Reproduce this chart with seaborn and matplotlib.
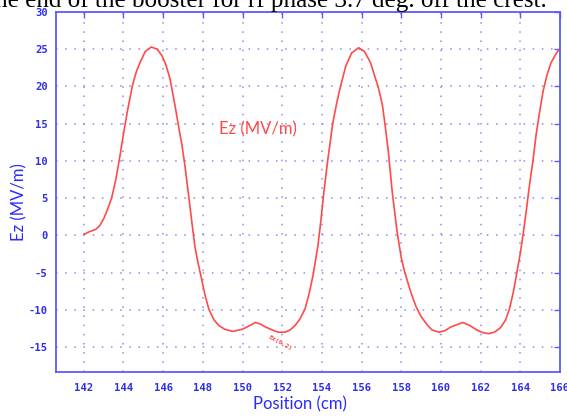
import numpy as np
import pandas as pd
import matplotlib
matplotlib.use("Agg")
import matplotlib.pyplot as plt
import seaborn as sns

position_cm = [142.0, 142.2, 142.4, 142.6, 142.8, 143.0, 143.2, 143.4, 143.6, 143.8,
               144.0, 144.2, 144.45, 144.65, 144.85, 145.1, 145.4, 145.7, 145.95, 146.15,
               146.35, 146.6, 146.8, 146.95, 147.1, 147.3, 147.45, 147.6, 147.75, 147.9,
               148.1, 148.3, 148.55, 148.8, 149.1, 149.5, 150.0, 150.3, 150.65, 150.9,
               151.15, 151.5, 151.8, 152.15, 152.4, 152.65, 152.9, 153.15, 153.35, 153.55,
               153.7, 153.8, 153.95, 154.1, 154.3, 154.55, 154.75, 154.9, 155.2, 155.5,
               155.85, 156.15, 156.45, 156.65, 156.85, 157.05, 157.2, 157.35, 157.55, 157.8,
               158.0, 158.15, 158.5, 158.75, 159.0, 159.3, 159.55, 159.9, 160.2, 160.5,
               161.1, 161.45, 161.8, 162.1, 162.4, 162.7, 163.0, 163.25, 163.45, 163.65,
               163.8, 164.0, 164.15, 164.3, 164.45, 164.65, 164.8, 165.0, 165.15, 165.35,
               165.55, 165.8, 166.0]
ez_mv_m = [0.1, 0.4, 0.6, 0.8, 1.3, 2.2, 3.5, 5.0, 7.3, 10.3,
           13.6, 16.7, 20.1, 22.0, 23.3, 24.7, 25.3, 25.0, 24.1, 22.8,
           21.0, 17.4, 14.3, 12.1, 9.3, 5.0, 1.7, -1.5, -3.6, -5.4,
           -7.9, -9.9, -11.3, -12.1, -12.6, -12.9, -12.6, -12.2, -11.7, -11.9,
           -12.3, -12.7, -13.0, -13.0, -12.7, -12.1, -11.2, -9.9, -7.9, -5.4,
           -3.0, -1.4, 2.0, 5.8, 10.2, 15.1, 17.8, 19.6, 22.7, 24.5,
           25.2, 24.7, 23.2, 21.5, 19.8, 17.5, 14.5, 11.2, 5.7, 0.3,
           -3.0, -4.7, -7.8, -9.6, -10.9, -12.0, -12.7, -13.0, -12.8, -12.3,
           -11.7, -12.1, -12.7, -13.05, -13.2, -13.0, -12.4, -11.4, -9.9, -7.6,
           -5.4, -2.4, 0.3, 3.3, 6.5, 10.3, 13.6, 17.0, 19.4, 21.6,
           23.2, 24.4, 25.1]
x_ticks = list(range(142, 167, 2))
y_ticks = list(range(-15, 31, 5))

df = pd.DataFrame({"Position": position_cm, "Ez": ez_mv_m})

sns.set_style("white")
plt.rcParams["font.family"] = ["DejaVu Sans"]

fig = plt.figure(figsize=(5.67, 4.18), dpi=100)
ax = fig.add_axes([56/567, 1-372/418, (560-56)/567, (372-12)/418])

spine_c = "#5a5aff"
tick_c = "#2f2fe6"
grid_c = "#8a8aee"
red = "#ff4a4a"

sns.lineplot(data=df, x="Position", y="Ez", ax=ax, color=red, lw=1.2,
             sort=False, estimator=None)

ax.set_xlim(140.6, 166.0)
ax.set_ylim(-18.35, 30.0)
ax.set_xticks(x_ticks)
ax.set_yticks(y_ticks)
ax.set_xticklabels([str(v) for v in x_ticks])
ax.set_yticklabels([str(v) for v in y_ticks])

for s in ax.spines.values():
    s.set_color(spine_c)
    s.set_linewidth(1.3)
    s.set_visible(True)

ax.grid(True, color=grid_c, linestyle=(0, (1, 5)), linewidth=1.1)
ax.set_axisbelow(True)
ax.tick_params(axis="both", direction="in", length=4, width=1.0, color=spine_c,
               top=True, right=True, labelcolor=tick_c)
ax.tick_params(axis="x", pad=8)
ax.tick_params(axis="y", pad=6)
for lab in ax.get_xticklabels() + ax.get_yticklabels():
    lab.set_fontfamily("DejaVu Sans Mono")
    lab.set_fontweight("bold")
    lab.set_fontsize(7.6)

ax.set_xlabel("Position (cm)", color="#2a2aff", fontsize=12, family="Lato")
ax.set_ylabel("Ez (MV/m)", color="#2a2aff", fontsize=12, family="Lato")
ax.xaxis.set_label_coords((300-56)/504, -(396-372)/360)
ax.yaxis.set_label_coords(-(56-27)/504, (372-202)/360)

ax.text(150.8, 14.2, "Ez (MV/m)", color=red, fontsize=12, family="Lato",
        ha="center", va="center")
ax.text(151.9, -14.4, "Ez(0,2)", color=red, fontsize=4.5, fontweight="bold",
        family="DejaVu Sans Mono", rotation=-28, ha="center", va="center")

fig.text(547/567, 1-7/418, "he end of the booster for rf phase 3.7 deg. off the crest.",
         family="Liberation Serif", fontsize=18.1, color="black",
         ha="right", va="baseline")

fig.savefig("out.png", dpi=100)
